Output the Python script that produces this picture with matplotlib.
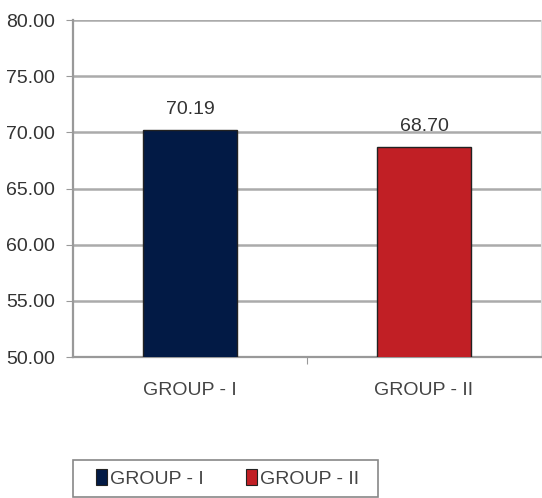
import matplotlib
matplotlib.use("Agg")
import matplotlib.pyplot as plt
from matplotlib.patches import Patch, Rectangle

categories = ["GROUP - I", "GROUP - II"]
values = [70.19, 68.70]
value_labels = ["70.19", "68.70"]
yticks = [50, 55, 60, 65, 70, 75, 80]
colors = ["#021a45", "#c11f25"]

plt.rcParams['font.family'] = ['Liberation Sans', 'DejaVu Sans']
W, H = 542, 498
fig = plt.figure(figsize=(W / 100, H / 100), dpi=100)
ax = fig.add_axes([73 / W, 1 - 357 / H, (541 - 73) / W, (357 - 20) / H])

x = list(range(len(categories)))
bars = ax.bar(x, values, width=0.405, color=colors, edgecolor="#222222", linewidth=1.0, zorder=3)
for xi, v, lab in zip(x, values, value_labels):
    ax.text(xi, v + 1.1, lab, ha="center", va="bottom", fontsize=14, color="#333333")

ax.set_ylim(50, 80)
ax.set_xlim(-0.5, 1.5)
ax.set_yticks(yticks)
ax.set_yticklabels([f"{t:.2f}" for t in yticks], fontsize=14, color="#333333")
ax.yaxis.grid(True, color="#ababab", linewidth=1.8, zorder=0)
ax.set_axisbelow(True)
ax.set_xticks([0.5])
ax.set_xticklabels([""])
ax.tick_params(axis="x", length=5, color="#999999", direction="out")
ax.tick_params(axis="y", length=5, color="#999999", pad=8)
for xi, c in zip(x, categories):
    ax.text(xi, 50 - 3.0, c, ha="center", va="center", fontsize=14, color="#444444")

for s in ["left", "bottom"]:
    ax.spines[s].set_color("#999999")
    ax.spines[s].set_linewidth(1.6)
ax.spines["top"].set_visible(False)
ax.spines["right"].set_color("#dddddd")

handles = [Patch(facecolor=c, edgecolor="#222222", linewidth=0.8) for c in colors]
leg = fig.legend(handles, categories, loc="center", bbox_to_anchor=(((73 + 378) / 2 + 2) / W, 1 - 478.5 / H),
                 ncol=2, fontsize=14, frameon=False, handlelength=0.55,
                 handleheight=0.9, handletextpad=0.15, columnspacing=2.2, borderpad=0.0,
                 borderaxespad=0.0, labelcolor="#444444")
fig.add_artist(Rectangle((73 / W, 1 - 497 / H), (378 - 73) / W, (497 - 460) / H,
                         transform=fig.transFigure, fill=False, edgecolor="#888888", linewidth=1.2))

fig.savefig("out.png", dpi=100, facecolor="white")
